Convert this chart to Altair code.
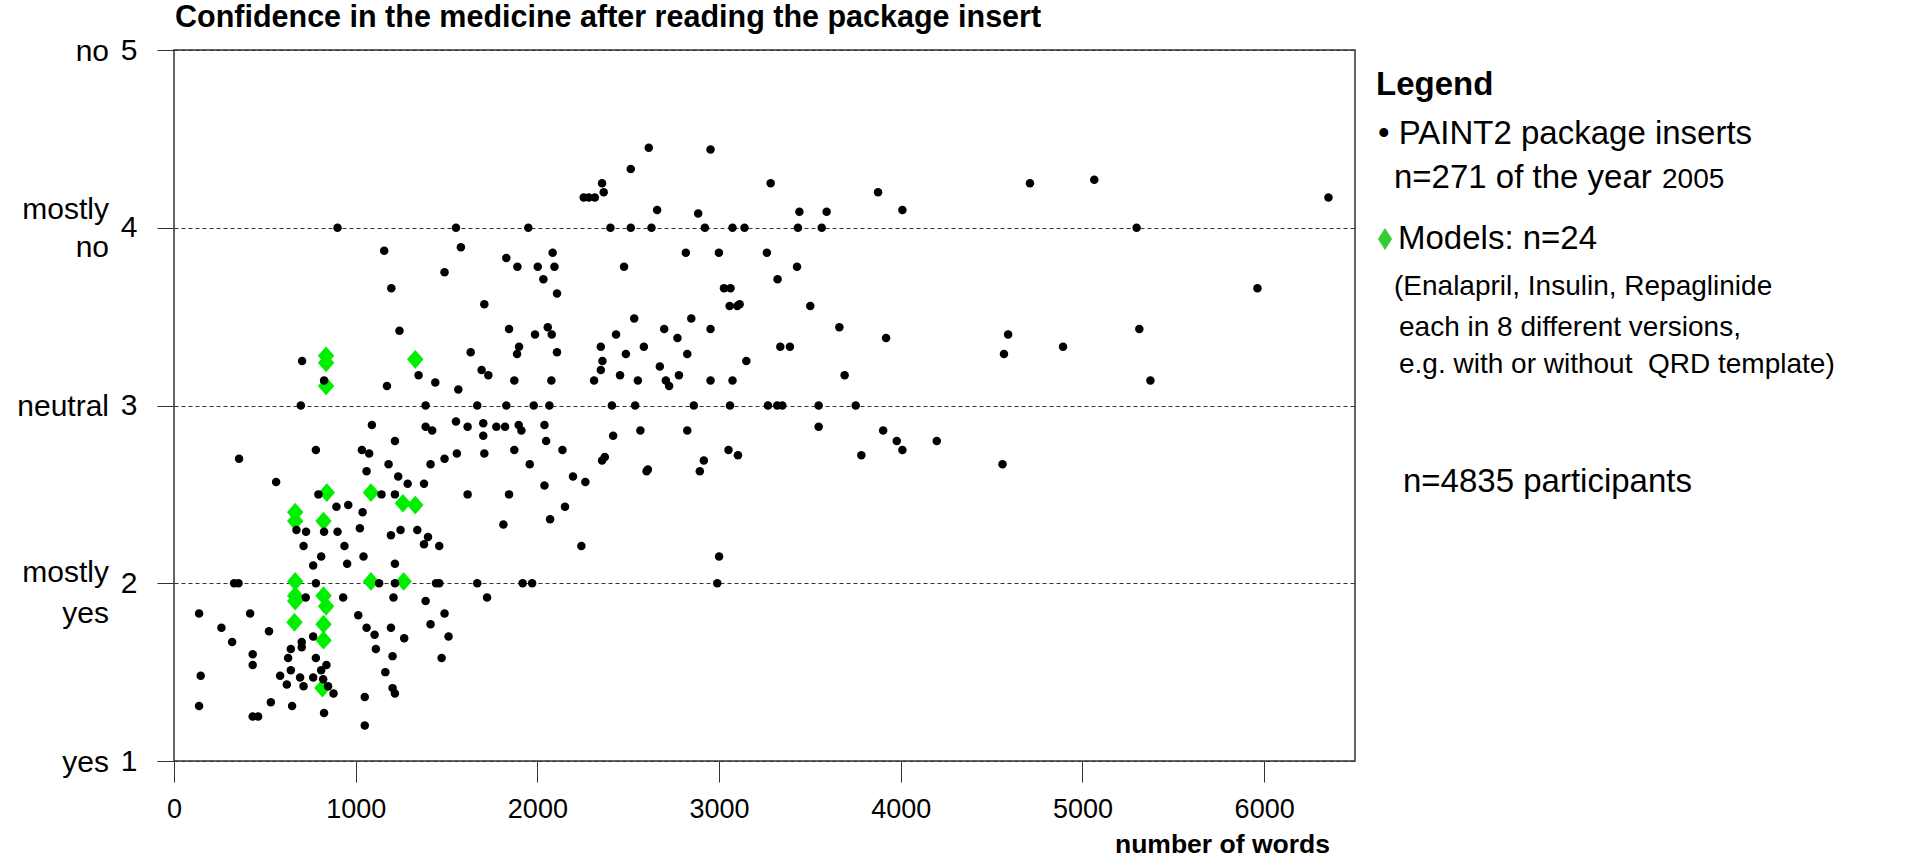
import altair as alt
import pandas as pd

# PAINT2 package inserts (2005): (number of words, mean confidence rating 1=yes .. 5=no)
inserts_low_left = [
    (900, 4.00), (1552, 4.00), (1950, 4.00), (1157, 3.87), (1579, 3.89), (1829, 3.83),
    (1890, 3.78), (2002, 3.78), (2084, 3.86), (2094, 3.78), (2033, 3.71), (2108, 3.63),
    (1489, 3.75), (1196, 3.66), (1708, 3.57), (1241, 3.42), (1844, 3.43), (1987, 3.40),
    (2057, 3.44), (2079, 3.40), (1633, 3.30), (1899, 3.33), (1888, 3.29), (2108, 3.30),
    (705, 3.25), (826, 3.14), (1346, 3.17), (1438, 3.13), (1565, 3.09), (1693, 3.20),
    (1730, 3.17), (1873, 3.14), (2077, 3.14), (1172, 3.11),
]
inserts_short = [
    (698, 3.00), (1385, 3.00), (1669, 3.00), (1829, 3.00), (1980, 3.00), (2066, 3.00),
    (1089, 2.89), (1385, 2.88), (1421, 2.86), (1552, 2.91), (1616, 2.88), (1702, 2.90),
    (1702, 2.83), (1774, 2.88), (1822, 2.88), (1897, 2.89), (1912, 2.86), (2039, 2.89),
    (2048, 2.80), (1216, 2.80), (781, 2.75), (358, 2.70), (1034, 2.75), (1074, 2.73),
    (1557, 2.73), (1708, 2.73), (1873, 2.75), (2138, 2.75), (1489, 2.70), (1412, 2.67),
    (1181, 2.67), (1958, 2.67), (1060, 2.63), (1234, 2.60), (1286, 2.56), (1376, 2.56),
    (2039, 2.55), (1616, 2.50), (1844, 2.50), (1813, 2.33), (2070, 2.36), (2152, 2.43),
    (562, 2.57), (795, 2.50), (1142, 2.50), (1216, 2.50), (894, 2.43), (959, 2.44),
    (1038, 2.40), (674, 2.30), (727, 2.29), (826, 2.29), (900, 2.29), (1023, 2.31),
    (1194, 2.27), (1247, 2.30), (1339, 2.30), (1398, 2.26), (1376, 2.22), (1460, 2.21),
    (713, 2.21), (938, 2.21), (810, 2.15), (766, 2.10), (953, 2.11), (1043, 2.15),
    (1216, 2.11),
    (331, 2.00), (355, 2.00), (781, 2.00), (1129, 2.00), (1216, 2.00), (1442, 2.00),
    (1460, 2.00), (1669, 2.00), (1919, 2.00), (1971, 2.00),
    (725, 1.92), (931, 1.92), (1208, 1.92), (1723, 1.92), (1385, 1.90), (138, 1.83),
    (419, 1.83), (1014, 1.82), (1489, 1.83), (261, 1.75), (523, 1.73), (1060, 1.75),
    (1194, 1.75), (1412, 1.77), (320, 1.67), (766, 1.70), (1104, 1.71), (1267, 1.69),
    (1511, 1.70), (703, 1.67), (703, 1.64), (643, 1.63), (433, 1.60), (433, 1.54),
    (628, 1.58), (781, 1.58), (1111, 1.63), (1203, 1.59), (1473, 1.58), (839, 1.54),
    (1163, 1.50), (643, 1.51), (810, 1.51), (147, 1.48), (584, 1.48), (621, 1.43),
    (694, 1.47), (713, 1.42), (766, 1.47), (821, 1.46), (848, 1.42), (878, 1.38),
    (1203, 1.41), (1216, 1.38), (1050, 1.36), (138, 1.31), (533, 1.33), (650, 1.31),
    (826, 1.27), (433, 1.25), (463, 1.25), (1050, 1.20),
]
inserts_mid = [
    (2613, 4.45), (2953, 4.44), (2514, 4.33), (2356, 4.25), (2365, 4.20), (2255, 4.17),
    (2283, 4.17), (2316, 4.17), (3284, 4.25), (3875, 4.20), (4009, 4.10), (2659, 4.10),
    (2885, 4.08), (3442, 4.09), (3592, 4.09),
    (2402, 4.00), (2514, 4.00), (2628, 4.00), (2922, 4.00), (3074, 4.00), (3140, 4.00),
    (3434, 4.00), (3565, 4.00),
    (2817, 3.86), (2999, 3.86), (3263, 3.86), (2477, 3.78), (3429, 3.78), (3322, 3.71),
    (3027, 3.66), (3063, 3.66), (3058, 3.56), (3100, 3.56), (3113, 3.57), (3502, 3.56),
    (2533, 3.49), (2847, 3.49), (2433, 3.40), (2698, 3.43), (2953, 3.43), (3662, 3.44),
    (2771, 3.38), (3919, 3.38), (2349, 3.33), (2586, 3.33), (3337, 3.33), (3390, 3.33),
    (2487, 3.29), (2825, 3.29), (2358, 3.25), (2349, 3.20), (2674, 3.22), (3150, 3.25),
    (2312, 3.14), (2455, 3.17), (2553, 3.14), (2707, 3.14), (2725, 3.11), (2779, 3.17),
    (2953, 3.14), (3074, 3.14), (3691, 3.17),
    (2410, 3.00), (2538, 3.00), (2861, 3.00), (3060, 3.00), (3269, 3.00), (3320, 3.00),
    (3348, 3.00), (3548, 3.00), (3752, 3.00),
    (2417, 2.83), (2567, 2.86), (2825, 2.86), (3052, 2.75), (3104, 2.72), (2356, 2.69),
    (2371, 2.71), (2601, 2.63), (2608, 2.64), (2894, 2.63), (2916, 2.69), (2196, 2.60),
    (2264, 2.57), (3548, 2.88), (3783, 2.72), (3903, 2.86), (3978, 2.80), (4009, 2.75),
    (4198, 2.80), (2242, 2.21), (3000, 2.15), (2990, 2.00),
]
inserts_long = [
    (4711, 4.25), (5065, 4.27), (6354, 4.17), (5298, 4.00), (5963, 3.66), (4591, 3.40),
    (4568, 3.29), (4893, 3.33), (5313, 3.43), (5374, 3.14), (4560, 2.67),
]

# Model inserts (Enalapril, Insulin, Repaglinide in 8 versions each)
models = [
    (837, 3.28), (837, 3.24), (837, 3.11), (1328, 3.26), (841, 2.51), (1084, 2.51),
    (1260, 2.45), (1328, 2.44), (667, 2.40), (667, 2.35), (823, 2.35), (667, 2.01),
    (1084, 2.01), (1264, 2.01), (667, 1.93), (667, 1.90), (823, 1.93), (837, 1.87),
    (663, 1.78), (823, 1.77), (823, 1.68), (817, 1.41),
]

x_ticks = [0, 1000, 2000, 3000, 4000, 5000, 6000]
y_ticks = [1, 2, 3, 4, 5]

inserts = inserts_low_left + inserts_short + inserts_mid + inserts_long
df_ins = pd.DataFrame(inserts, columns=["words", "confidence"])
df_mod = pd.DataFrame(models, columns=["words", "confidence"])

FONT = "Liberation Sans, Arial, sans-serif"
W, H = 1181, 711

x_scale = alt.Scale(domain=[0, 6500], nice=False, zero=False)
y_scale = alt.Scale(domain=[1, 5], nice=False, zero=False)

x_axis = alt.Axis(values=x_ticks, format="d", title=None, grid=False, domain=False,
                  tickSize=21, tickColor="#333", tickWidth=1,
                  labelFont=FONT, labelFontSize=27, labelColor="black",
                  labelPadding=14, labelFlush=False, labelOverlap=False)
y_axis = alt.Axis(values=y_ticks, format="d", title=None, grid=True, gridDash=[4, 3],
                  gridColor="#333", gridWidth=1, domain=False,
                  tickSize=17, tickColor="#333", tickWidth=1,
                  labelFont=FONT, labelFontSize=30, labelColor="black",
                  labelPadding=20, labelFlush=False, labelOverlap=False,
                  labelBaseline="middle")

diamond_plot = "M0,-1L0.88,0L0,1L-0.88,0Z"
diamond_key = "M0,-1L0.64,0L0,1L-0.64,0Z"

green = alt.Chart(df_mod).mark_point(
    shape=diamond_plot, filled=True, color="#00ee00", opacity=1, size=350, strokeWidth=0
).encode(
    x=alt.X("words:Q", scale=x_scale, axis=x_axis),
    y=alt.Y("confidence:Q", scale=y_scale, axis=y_axis),
)

black = alt.Chart(df_ins).mark_circle(color="black", opacity=1, size=72).encode(
    x=alt.X("words:Q", scale=x_scale),
    y=alt.Y("confidence:Q", scale=y_scale),
)

# verbal anchors of the rating scale, left of the tick numbers
anchor_words = [("no", 5, 10.7), ("mostly", 4, -8.7), ("no", 4, 29), ("neutral", 3, 10.7),
                ("mostly", 2, -1), ("yes", 2, 40), ("yes", 1, 10.7)]
anchor_layers = []
for word, level, off in anchor_words:
    anchor_layers.append(
        alt.Chart(pd.DataFrame({"t": [word], "lvl": [level]})).mark_text(
            align="right", baseline="alphabetic", font=FONT, fontSize=30,
            color="black", dy=off
        ).encode(x=alt.value(-65), y=alt.Y("lvl:Q", scale=y_scale), text="t:N")
    )


def label(txt, x, y, size=33, bold=False):
    return alt.Chart(pd.DataFrame({"t": [txt]})).mark_text(
        align="left", baseline="alphabetic", font=FONT, fontSize=size,
        fontWeight="bold" if bold else "normal", color="black"
    ).encode(x=alt.value(x), y=alt.value(y), text="t:N")


texts = [
    label("Confidence in the medicine after reading the package insert", 1, -23, 30.5, True),
    label("number of words", 941, 803, 26.5, True),
    label("Legend", 1202, 45, 33, True),
    label("\u2022 PAINT2 package inserts", 1204, 94, 33),
    label("n=271 of the year", 1220, 138, 33),
    label("2005", 1488, 138, 28),
    label("Models: n=24", 1224, 199, 33),
    label("(Enalapril, Insulin, Repaglinide", 1220, 245, 28),
    label("each in 8 different versions,", 1225, 286, 28),
    label("e.g. with or without\u00a0\u00a0QRD template)", 1225, 323, 28),
    label("n=4835 participants", 1229, 442, 33),
]

key_diamond = alt.Chart(pd.DataFrame({"k": [1]})).mark_point(
    shape=diamond_key, filled=True, color="#33cc33", opacity=1, size=484, strokeWidth=0
).encode(x=alt.value(1211), y=alt.value(189))

chart = alt.layer(green, black, *anchor_layers, *texts, key_diamond).properties(
    width=W, height=H,
    autosize=alt.AutoSizeParams(type="none"),
    padding={"left": 174, "top": 50, "right": 568, "bottom": 99},
    background="white",
).configure_view(stroke="#333", strokeWidth=1.5)

chart.save("out.html", embed_options={"renderer": "svg", "actions": False})
